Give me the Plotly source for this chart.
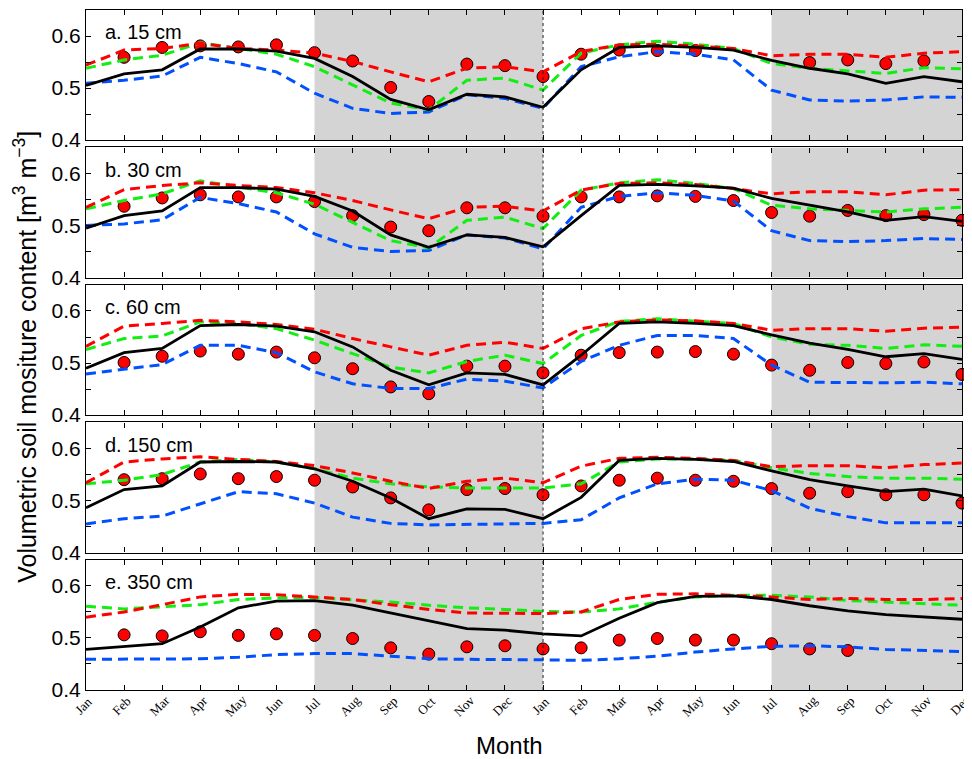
import plotly.graph_objects as go
from plotly.subplots import make_subplots

# month axis: two years, Jan..Dec Jan..Dec
months = ['Jan', 'Feb', 'Mar', 'Apr', 'May', 'Jun', 'Jul', 'Aug', 'Sep', 'Oct', 'Nov', 'Dec'] * 2
xidx = list(range(24))

depths = ['a. 15 cm', 'b. 30 cm', 'c. 60 cm', 'd. 150 cm', 'e. 350 cm']

# observed (red dots)
obs_15 = [None, 0.559, 0.578, 0.581, 0.579, 0.583, 0.568, 0.552, 0.501, 0.474, 0.546, 0.543,
          0.522, 0.565, 0.573, 0.572, 0.572, None, None, 0.549, 0.554, 0.547, 0.552, None]
obs_30 = [None, 0.537, 0.553, 0.559, 0.555, 0.555, 0.546, 0.519, 0.497, 0.490, 0.534, 0.534,
          0.518, 0.555, 0.555, 0.557, 0.556, 0.548, 0.525, 0.518, 0.529, 0.519, 0.521, 0.510]
obs_60 = [None, 0.501, 0.513, 0.523, 0.517, 0.521, 0.510, 0.489, 0.454, 0.441, 0.494, 0.494,
          0.481, 0.515, 0.520, 0.521, 0.522, 0.517, 0.496, 0.486, 0.501, 0.499, 0.502, 0.478]
obs_150 = [None, 0.540, 0.542, 0.551, 0.542, 0.546, 0.539, 0.526, 0.505, 0.482, 0.521, 0.523,
           0.511, 0.528, 0.539, 0.543, 0.539, 0.537, 0.523, 0.514, 0.517, 0.511, 0.511, 0.495]
obs_350 = [None, 0.506, 0.504, 0.512, 0.505, 0.508, 0.505, 0.499, 0.481, 0.469, 0.483, 0.485,
           0.479, 0.481, 0.496, 0.499, 0.496, 0.496, 0.489, 0.479, 0.476, None, None, None]

# black solid line
black_15 = [0.505, 0.527, 0.535, 0.575, 0.575, 0.571, 0.557, 0.522, 0.478, 0.458, 0.488, 0.483,
            0.463, 0.535, 0.578, 0.581, 0.578, 0.573, 0.553, 0.538, 0.527, 0.509, 0.522, 0.512]
black_30 = [0.495, 0.519, 0.528, 0.573, 0.573, 0.570, 0.556, 0.528, 0.482, 0.458, 0.482, 0.477,
            0.459, 0.519, 0.577, 0.579, 0.576, 0.572, 0.552, 0.539, 0.526, 0.510, 0.517, 0.508]
black_60 = [0.490, 0.520, 0.528, 0.572, 0.574, 0.571, 0.560, 0.531, 0.486, 0.458, 0.481, 0.478,
            0.458, 0.515, 0.576, 0.579, 0.576, 0.572, 0.554, 0.538, 0.526, 0.512, 0.518, 0.507]
black_150 = [0.486, 0.521, 0.528, 0.574, 0.575, 0.574, 0.561, 0.537, 0.505, 0.465, 0.484, 0.483,
             0.465, 0.506, 0.577, 0.581, 0.579, 0.575, 0.557, 0.540, 0.528, 0.517, 0.522, 0.509]
black_350 = [0.478, 0.484, 0.489, 0.521, 0.558, 0.571, 0.572, 0.563, 0.548, 0.532, 0.518, 0.515,
             0.508, 0.504, 0.538, 0.568, 0.580, 0.581, 0.574, 0.562, 0.552, 0.545, 0.540, 0.536]

# red dashed line
red_15 = [0.544, 0.573, 0.576, 0.586, 0.576, 0.573, 0.567, 0.551, 0.531, 0.512, 0.538, 0.541,
          0.531, 0.570, 0.583, 0.584, 0.581, 0.576, 0.562, 0.565, 0.565, 0.559, 0.567, 0.570]
red_30 = [0.535, 0.569, 0.577, 0.582, 0.577, 0.573, 0.563, 0.548, 0.530, 0.513, 0.535, 0.537,
          0.528, 0.568, 0.581, 0.582, 0.579, 0.571, 0.561, 0.565, 0.565, 0.559, 0.568, 0.569]
red_60 = [0.532, 0.571, 0.576, 0.582, 0.579, 0.574, 0.565, 0.547, 0.531, 0.515, 0.534, 0.540,
          0.528, 0.566, 0.579, 0.583, 0.581, 0.576, 0.563, 0.566, 0.566, 0.561, 0.567, 0.569]
red_150 = [0.534, 0.574, 0.580, 0.584, 0.579, 0.575, 0.567, 0.553, 0.537, 0.523, 0.537, 0.543,
           0.534, 0.566, 0.581, 0.583, 0.581, 0.577, 0.565, 0.567, 0.567, 0.563, 0.569, 0.572]
red_350 = [0.540, 0.550, 0.564, 0.579, 0.584, 0.583, 0.579, 0.574, 0.564, 0.555, 0.548, 0.548,
           0.547, 0.550, 0.574, 0.584, 0.585, 0.582, 0.579, 0.574, 0.576, 0.574, 0.574, 0.576]

# green dashed line
green_15 = [0.538, 0.554, 0.563, 0.587, 0.576, 0.565, 0.541, 0.506, 0.471, 0.458, 0.515, 0.519,
            0.496, 0.567, 0.583, 0.590, 0.584, 0.576, 0.547, 0.538, 0.533, 0.528, 0.539, 0.537]
green_30 = [0.532, 0.548, 0.561, 0.586, 0.574, 0.563, 0.541, 0.506, 0.471, 0.457, 0.510, 0.516,
            0.494, 0.568, 0.582, 0.588, 0.581, 0.571, 0.539, 0.532, 0.529, 0.526, 0.532, 0.535]
green_60 = [0.526, 0.547, 0.552, 0.579, 0.576, 0.566, 0.544, 0.518, 0.492, 0.481, 0.503, 0.515,
            0.499, 0.553, 0.580, 0.585, 0.581, 0.576, 0.550, 0.536, 0.534, 0.528, 0.535, 0.532]
green_150 = [0.532, 0.539, 0.550, 0.574, 0.579, 0.574, 0.561, 0.543, 0.532, 0.526, 0.524, 0.524,
             0.524, 0.532, 0.574, 0.580, 0.580, 0.577, 0.563, 0.552, 0.546, 0.543, 0.543, 0.541]
green_350 = [0.561, 0.556, 0.560, 0.564, 0.574, 0.577, 0.578, 0.574, 0.569, 0.563, 0.558, 0.555,
             0.551, 0.550, 0.556, 0.569, 0.579, 0.582, 0.582, 0.579, 0.572, 0.569, 0.566, 0.563]

# blue dashed line
blue_15 = [0.509, 0.515, 0.523, 0.559, 0.547, 0.531, 0.490, 0.461, 0.451, 0.454, 0.487, 0.480,
           0.461, 0.541, 0.560, 0.570, 0.565, 0.554, 0.496, 0.477, 0.475, 0.477, 0.483, 0.482]
blue_30 = [0.500, 0.503, 0.511, 0.554, 0.542, 0.526, 0.484, 0.458, 0.450, 0.452, 0.482, 0.476,
           0.455, 0.535, 0.556, 0.563, 0.558, 0.547, 0.490, 0.471, 0.469, 0.471, 0.475, 0.473]
blue_60 = [0.479, 0.488, 0.497, 0.534, 0.534, 0.520, 0.483, 0.460, 0.451, 0.451, 0.469, 0.465,
           0.452, 0.503, 0.534, 0.553, 0.553, 0.547, 0.496, 0.463, 0.462, 0.462, 0.463, 0.460]
blue_150 = [0.455, 0.465, 0.470, 0.494, 0.517, 0.513, 0.495, 0.468, 0.456, 0.453, 0.454, 0.455,
            0.456, 0.463, 0.505, 0.532, 0.541, 0.539, 0.519, 0.485, 0.469, 0.457, 0.457, 0.457]
blue_350 = [0.459, 0.459, 0.459, 0.460, 0.463, 0.468, 0.470, 0.470, 0.465, 0.460, 0.459, 0.459,
            0.458, 0.457, 0.460, 0.465, 0.473, 0.479, 0.484, 0.485, 0.483, 0.478, 0.476, 0.474]

obs_all = [obs_15, obs_30, obs_60, obs_150, obs_350]
black_all = [black_15, black_30, black_60, black_150, black_350]
red_all = [red_15, red_30, red_60, red_150, red_350]
green_all = [green_15, green_30, green_60, green_150, green_350]
blue_all = [blue_15, blue_30, blue_60, blue_150, blue_350]

# shaded periods (Jul-Jan, Jul-Dec)
shade_spans = [(6, 12), (18, 23)]

sans = 'Liberation Sans, Arial, sans-serif'
serif = 'Liberation Serif, Times New Roman, serif'
dash = '10px,6px'

fig = make_subplots(rows=5, cols=1, shared_xaxes=True, vertical_spacing=0.011)

for i in range(5):
    r = i + 1
    fig.add_trace(go.Scatter(x=xidx, y=obs_all[i], mode='markers', cliponaxis=False,
                             marker=dict(size=12, color='#ff0000', line=dict(color='black', width=1))),
                  row=r, col=1)
    fig.add_trace(go.Scatter(x=xidx, y=blue_all[i], mode='lines',
                             line=dict(color='#0050ff', width=3, dash=dash)), row=r, col=1)
    fig.add_trace(go.Scatter(x=xidx, y=green_all[i], mode='lines',
                             line=dict(color='#11ee11', width=3, dash=dash)), row=r, col=1)
    fig.add_trace(go.Scatter(x=xidx, y=red_all[i], mode='lines',
                             line=dict(color='#ff0000', width=3, dash=dash)), row=r, col=1)
    fig.add_trace(go.Scatter(x=xidx, y=black_all[i], mode='lines',
                             line=dict(color='black', width=2.8)), row=r, col=1)

    for s0, s1 in shade_spans:
        fig.add_vrect(x0=s0, x1=s1, fillcolor='#d4d4d4', opacity=1, line_width=0,
                      layer='below', row=r, col=1)
    fig.add_vline(x=12, line=dict(color='#222222', width=1, dash='dot'), row=r, col=1)

    fig.add_annotation(text=depths[i], xref='x domain' if r == 1 else 'x%d domain' % r,
                       yref='y domain' if r == 1 else 'y%d domain' % r,
                       x=0.019, y=0.83, xanchor='left', yanchor='middle', showarrow=False,
                       font=dict(family=sans, size=20, color='black'))

    fig.update_yaxes(range=[0.4, 0.65], tickvals=[0.4, 0.5, 0.6], tickformat='.1f',
                     ticks='inside', ticklen=5, tickcolor='black',
                     minor=dict(ticks='inside', ticklen=5, tickcolor='black',
                                tick0=0.4, dtick=0.05, showgrid=False),
                     showline=True, linecolor='black', linewidth=1.2,
                     mirror='ticks', showgrid=False, zeroline=False, ticklabelstandoff=0,
                     tickfont=dict(family=sans, size=21, color='black'), row=r, col=1)
    fig.update_xaxes(range=[0, 23], tickvals=xidx, ticks='inside', ticklen=5,
                     tickcolor='black', showline=True, linecolor='black', linewidth=1.2,
                     mirror='ticks', showgrid=False, zeroline=False, showticklabels=False,
                     row=r, col=1)

# slanted month labels under the bottom panel, placed on the shared month axis
for xi, name in zip(xidx, months):
    fig.add_annotation(text=name, x=xi, xref='x5', y=0, yref='y5 domain', yshift=-16,
                       xshift=-2, xanchor='center', yanchor='middle', textangle=-45,
                       showarrow=False, font=dict(family=serif, size=13, color='black'))

fig.add_annotation(text='Volumetric soil mositure content [m<sup>3</sup> m<sup>\u22123</sup>]',
                   xref='paper', yref='paper', x=0, y=0.49, xshift=-61, xanchor='center',
                   yanchor='middle', textangle=-90, showarrow=False,
                   font=dict(family=sans, size=25, color='black'))
fig.add_annotation(text='Month', xref='paper', yref='paper', x=0.483, y=0, yshift=-55,
                   xanchor='center', yanchor='middle', showarrow=False,
                   font=dict(family=sans, size=24, color='black'))

# page has an 8px body margin, so the plot area is offset to sit where the reference has it
fig.update_layout(width=964, height=759, showlegend=False, plot_bgcolor='white',
                  paper_bgcolor='white', margin=dict(l=78, r=10, t=2, b=77))

fig.write_html('out.html')
